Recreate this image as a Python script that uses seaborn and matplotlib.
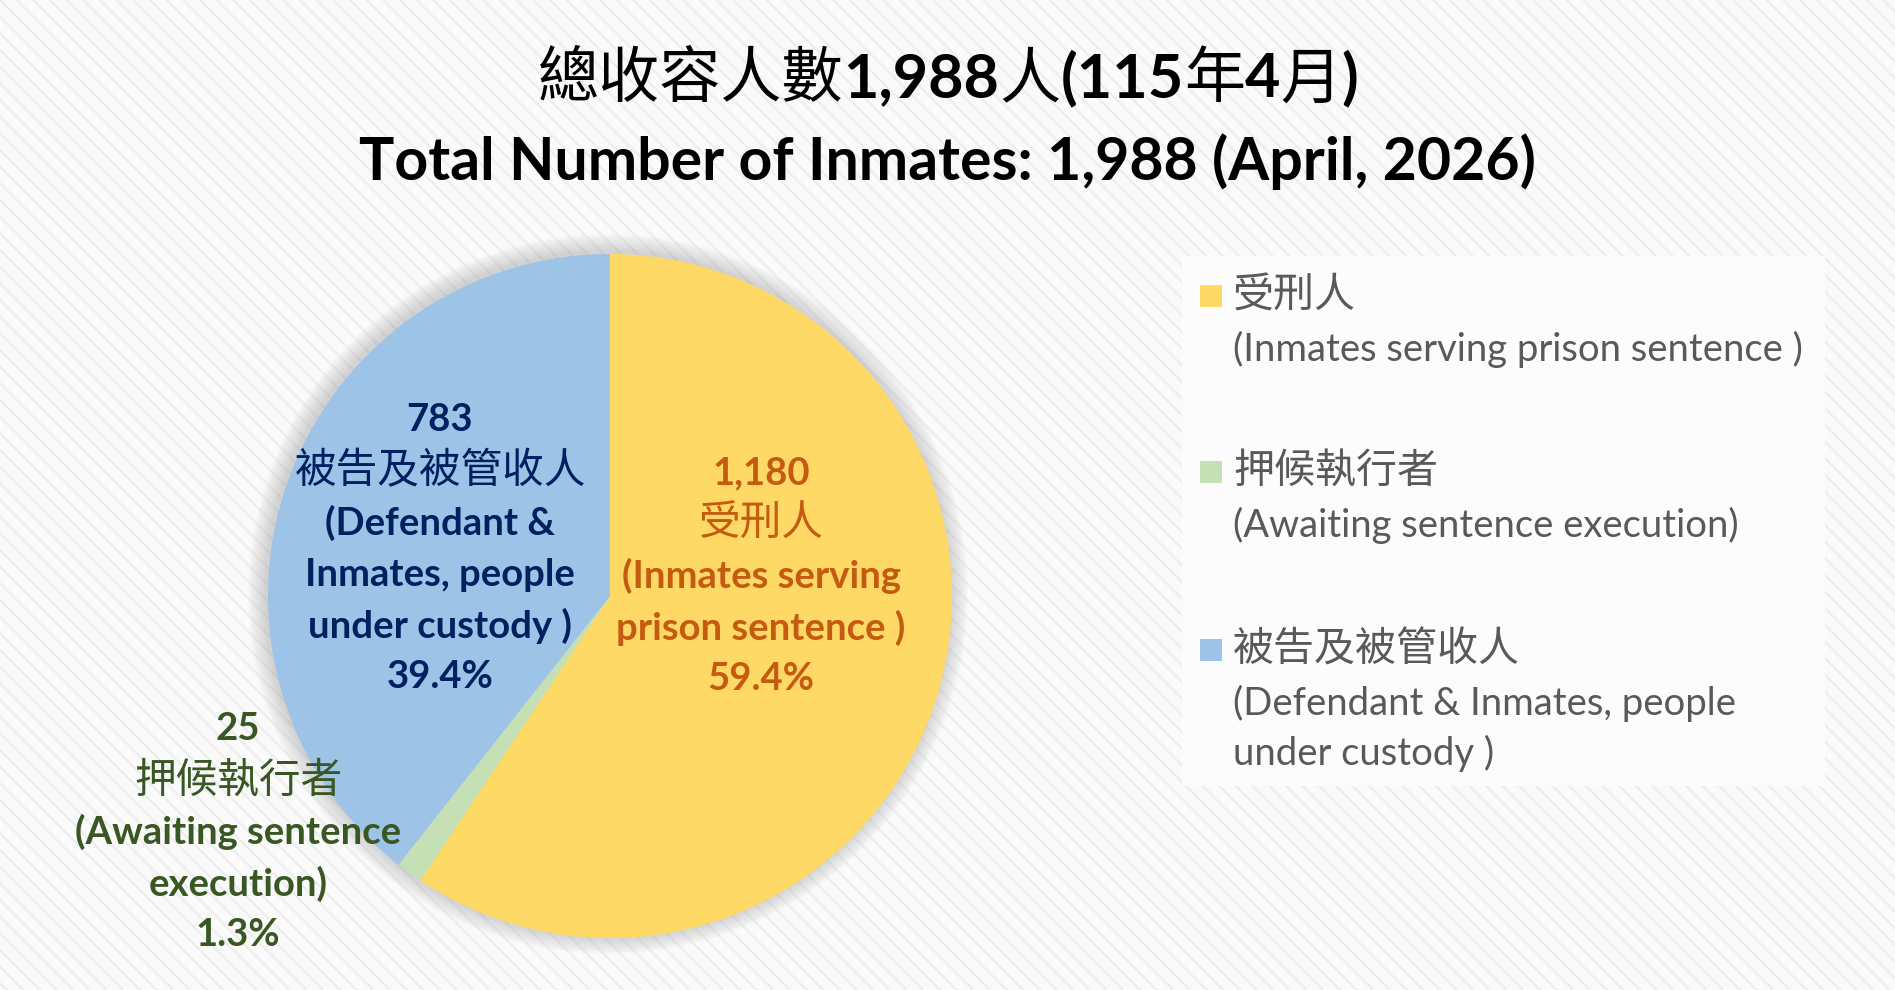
import numpy as np
import matplotlib
matplotlib.use("Agg")
import matplotlib.pyplot as plt
import seaborn as sns
from matplotlib.patches import Rectangle, Circle
from matplotlib.offsetbox import TextArea, HPacker, AnnotationBbox

# --- data ---
categories_zh = ["受刑人", "押候執行者", "被告及被管收人"]
categories_en = [
    ["(Inmates serving", "prison sentence )"],
    ["(Awaiting sentence", "execution)"],
    ["(Defendant &", "Inmates, people", "under custody )"],
]
legend_en = [
    ["(Inmates serving prison sentence )"],
    ["(Awaiting sentence execution)"],
    ["(Defendant & Inmates, people", "under custody )"],
]
counts = [1180, 25, 783]
title_zh = [("總收容人數", False), ("1,988", True), ("人", False), ("(115", True),
            ("年", False), ("4", True), ("月", False), (")", True)]
title_en = "Total Number of Inmates: 1,988 (April, 2026)"

sns.set_theme(style="white")
LAT = ["Lato", "Noto Sans CJK TC"]
CJK = ["Noto Sans CJK TC", "Lato"]
plt.rcParams["font.family"] = LAT
plt.rcParams["hatch.linewidth"] = 1.6
plt.rcParams["hatch.color"] = "#ececec"

W, H = 1895, 990
colors = ["#FFD966", "#C5E0B4", "#9DC3E6"]
text_colors = ["#C55A11", "#385723", "#002060"]

fig = plt.figure(figsize=(W / 100, H / 100), dpi=100)
fig.patch.set_facecolor("#fafafa")
ax = fig.add_axes([0, 0, 1, 1])
ax.set_facecolor("none")

# striped background
ax.add_patch(Rectangle((0, 0), W, H, facecolor="#fafafa", hatch="\\\\",
                       edgecolor="#ededed", linewidth=0, zorder=0))

cx, cy, r = 610, H - 596, 342

# soft shadow
for k in range(18):
    ax.add_patch(Circle((cx - 2, cy + 2), r + 18 - k, color="#9a9a9a",
                        alpha=0.025, lw=0, zorder=1))

ax.pie(counts, colors=colors, startangle=90, counterclock=False,
       center=(cx, cy), radius=r, wedgeprops=dict(linewidth=0, zorder=2))
ax.set_xlim(0, W)
ax.set_ylim(0, H)
ax.set_aspect("auto")
ax.axis("off")

total = sum(counts)
pcts = [c / total * 100 for c in counts]

# label layout: x centre and y of first line (pixels from top)
label_pos = [(761, 473), (238, 729), (440, 420)]
step = 51.5
for i, (x, y0) in enumerate(label_pos):
    lines = [(f"{counts[i]:,}", "bold", LAT, 27.5)]
    lines.append((categories_zh[i], "normal", CJK, 30))
    for s in categories_en[i]:
        lines.append((s, "bold", LAT, 27.5))
    lines.append((f"{pcts[i]:.1f}%", "bold", LAT, 27.5))
    for j, (s, wt, fam, fs) in enumerate(lines):
        ax.text(x, H - (y0 + j * step), s, ha="center", va="center",
                fontsize=fs, fontweight=wt, family=fam,
                color=text_colors[i], zorder=5)

# legend panel
ax.add_patch(Rectangle((1182, H - 786), 643, 530, facecolor="#fdfdfd",
                       edgecolor="none", alpha=0.9, zorder=3))
leg_y = [296, 472, 650]
for i, y in enumerate(leg_y):
    ax.add_patch(Rectangle((1200, H - y - 11), 22, 22, facecolor=colors[i],
                           edgecolor="none", zorder=4))
    ax.text(1233, H - y, categories_zh[i], ha="left", va="center",
            fontsize=29.5, family=CJK, color="#595959", zorder=5)
    for j, s in enumerate(legend_en[i]):
        ax.text(1233, H - (y + 53 + j * 50), s, ha="left", va="center",
                fontsize=27.5, family=LAT, color="#595959", zorder=5)

# titles
parts = [TextArea(s, textprops=dict(fontsize=44, color="black",
                                    fontweight="bold" if b else "normal",
                                    family=LAT if b else CJK))
         for s, b in title_zh]
pack = HPacker(children=parts, pad=0, sep=0, align="baseline")
ax.add_artist(AnnotationBbox(pack, (948, H - 80), xycoords="data",
                             frameon=False, box_alignment=(0.5, 0.5), zorder=6))
ax.text(947, H - 162, title_en, ha="center", va="center", fontsize=42.5,
        fontweight="bold", color="black", zorder=6)

fig.savefig("out.png", dpi=100, facecolor=fig.get_facecolor())
